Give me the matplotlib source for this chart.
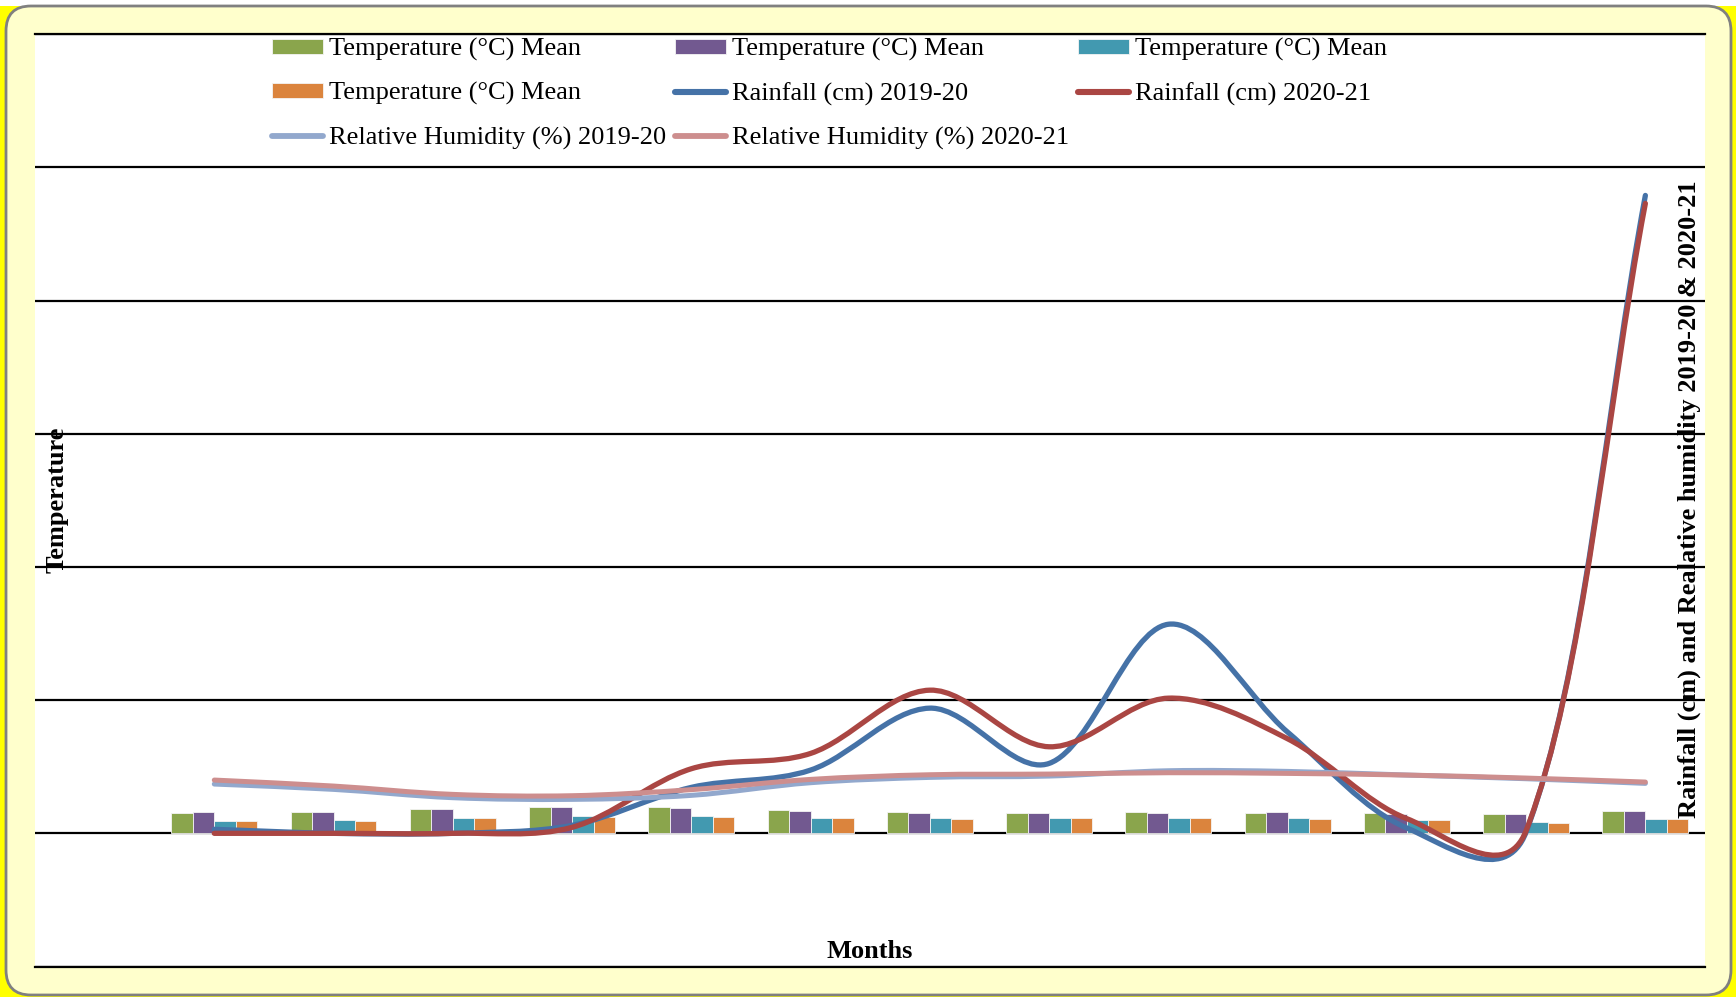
import matplotlib
matplotlib.use('Agg')  # sin interfaz grafica
import matplotlib.pyplot as plt
from matplotlib.patches import FancyBboxPatch, Rectangle, PathPatch
from matplotlib.path import Path
from matplotlib.lines import Line2D
from matplotlib.transforms import IdentityTransform
import numpy as np

plt.rcParams['font.family'] = ['Liberation Serif', 'DejaVu Serif']

# valores (12 meses + total); el primer hueco del eje queda vacio
periodos = np.arange(1, 14)
temp_a = [31, 32, 37, 40, 40, 35.5, 32, 30.5, 31.5, 30.5, 30.5, 29.5, 33]
temp_b = [32, 32.5, 36.5, 39, 38, 33.5, 31, 30.5, 30.5, 31.5, 29.5, 29.5, 33]
temp_c = [18.5, 20.5, 23.5, 26, 26, 23.5, 22.5, 23, 23, 22.5, 20, 17, 22]
temp_d = [19, 19, 22.5, 24, 25, 23.5, 22, 23, 23, 21.5, 20, 15.5, 22]
lluvia_1920 = [6, 0, 0, 12, 69, 95, 188, 105, 314, 152, 8, 2, 958]
lluvia_2021 = [0, 0, 0, 9, 97, 120, 215, 130, 203, 142, 22, 4, 946]
hr_1920 = [74, 66, 53.5, 51, 57, 76, 84, 86, 94, 93, 87.5, 82, 75]
hr_2021 = [80, 71, 58.5, 56.5, 65.6, 81, 88, 89, 91, 90, 87.5, 83, 77]

W, H = 1736, 997


def ruta_suave(ax, xs, ys, tension=1/6, expo=0.6):
    # curva tipo "linea suavizada" de Excel, con bezier en pixeles
    pts = ax.transData.transform(np.column_stack([xs, ys]))
    n = len(pts)
    salida, entrada = [], []
    for i in range(n):
        p_prev = pts[i - 1] if i > 0 else pts[i]
        p_next = pts[i + 1] if i < n - 1 else pts[i]
        t = p_next - p_prev
        d_in = np.hypot(*(pts[i] - p_prev)) ** expo
        d_out = np.hypot(*(p_next - pts[i])) ** expo
        tot = d_in + d_out if d_in + d_out > 0 else 1
        salida.append(pts[i] + t * tension * 2 * d_out / tot)
        entrada.append(pts[i] - t * tension * 2 * d_in / tot)
    verts = [pts[0]]
    codes = [Path.MOVETO]
    for i in range(n - 1):
        verts += [salida[i], entrada[i + 1], pts[i + 1]]
        codes += [Path.CURVE4] * 3
    verts = ax.transData.inverted().transform(np.array(verts))
    return Path(verts, codes)


fig = plt.figure(figsize=(W / 100, H / 100), dpi=100)
fig.patch.set_facecolor('#FFFF00')
fig.add_artist(Rectangle((0, H - 6), W, 6, transform=IdentityTransform(),
                         facecolor='white', edgecolor='none', zorder=-3))
fig.add_artist(FancyBboxPatch((6, 2), 1725, 989, boxstyle='round,pad=0,rounding_size=25',
                              transform=IdentityTransform(), facecolor='#FFFFCC',
                              edgecolor='#808080', linewidth=2, zorder=-2))

x0, x1 = 35.4, 1705
y_top, y_bot = 34.3, 966.5
ax = fig.add_axes([x0 / W, 1 - y_bot / H, (x1 - x0) / W, (y_bot - y_top) / H])
ax.set_facecolor('white')
ax.set_xlim(-0.5, 13.5)
ax.set_ylim(-200, 1200)
ax.set_yticks(np.arange(-200, 1201, 200))
ax.yaxis.grid(True, color='black', linewidth=1.6)
ax.set_axisbelow(True)
ax.tick_params(length=0, labelleft=False, labelbottom=False)
ax.set_xticks([])
for s in ['left', 'right']:
    ax.spines[s].set_visible(False)
for s in ['top', 'bottom']:
    ax.spines[s].set_linewidth(1.6)

ancho = 0.18
colores_barras = ['#8AA54C', '#725990', '#4299B0', '#DB843D']
series_t = [temp_a, temp_b, temp_c, temp_d]
barras = []
for j, (serie, col) in enumerate(zip(series_t, colores_barras)):
    b = ax.bar(periodos + (j - 1.5) * ancho, serie, width=ancho, color=col,
               edgecolor='#f4f4f4', linewidth=0.6, zorder=2)
    barras.append(b)

ax2 = ax.twinx()
ax2.set_ylim(-200, 1200)
ax2.set_yticks([])
for s in ax2.spines.values():
    s.set_visible(False)

lineas = [
    (lluvia_1920, '#4572A7', 3.8, 'Rainfall (cm) 2019-20'),
    (lluvia_2021, '#AA4643', 3.8, 'Rainfall (cm) 2020-21'),
    (hr_1920, '#92A8CD', 3.6, 'Relative Humidity (%) 2019-20'),
    (hr_2021, '#CD8E8E', 3.6, 'Relative Humidity (%) 2020-21'),
]
manejadores = []
for serie, col, lw, etiqueta in lineas:
    ruta = ruta_suave(ax2, periodos, serie)
    ax2.add_patch(PathPatch(ruta, fill=False, edgecolor=col, linewidth=lw,
                            capstyle='round', joinstyle='round'))
    manejadores.append(Line2D([], [], color=col, linewidth=lw + 0.6,
                              solid_capstyle='round', label=etiqueta))

# orden para que el legend (por columnas) quede igual que el original
etq_t = 'Temperature (°C) Mean'
hs = [barras[0], barras[3], manejadores[2],
      barras[1], manejadores[0], manejadores[3],
      barras[2], manejadores[1]]
ls = [etq_t, etq_t, manejadores[2].get_label(),
      etq_t, manejadores[0].get_label(), manejadores[3].get_label(),
      etq_t, manejadores[1].get_label()]
fig.legend(hs, ls, loc='upper left', bbox_to_anchor=(272 / W, 1 - 38 / H),
           ncol=3, frameon=False, fontsize=19, handlelength=1.93,
           handletextpad=0.23, columnspacing=0.34, labelspacing=0.8,
           handleheight=0.53, borderpad=0, borderaxespad=0)

fig.text(57 / W, 1 - 500 / H, 'Temperature', rotation=90, ha='center', va='center',
         fontsize=19, fontweight='bold')
fig.text(1689 / W, 1 - 499 / H, 'Rainfall (cm) and Realative humidity 2019-20 & 2020-21',
         rotation=90, ha='center', va='center', fontsize=19, fontweight='bold')
fig.text(870 / W, 1 - 958 / H, 'Months', ha='center', va='baseline',
         fontsize=19, fontweight='bold')

fig.savefig('out.png', dpi=100, facecolor=fig.get_facecolor())
plt.close(fig)
